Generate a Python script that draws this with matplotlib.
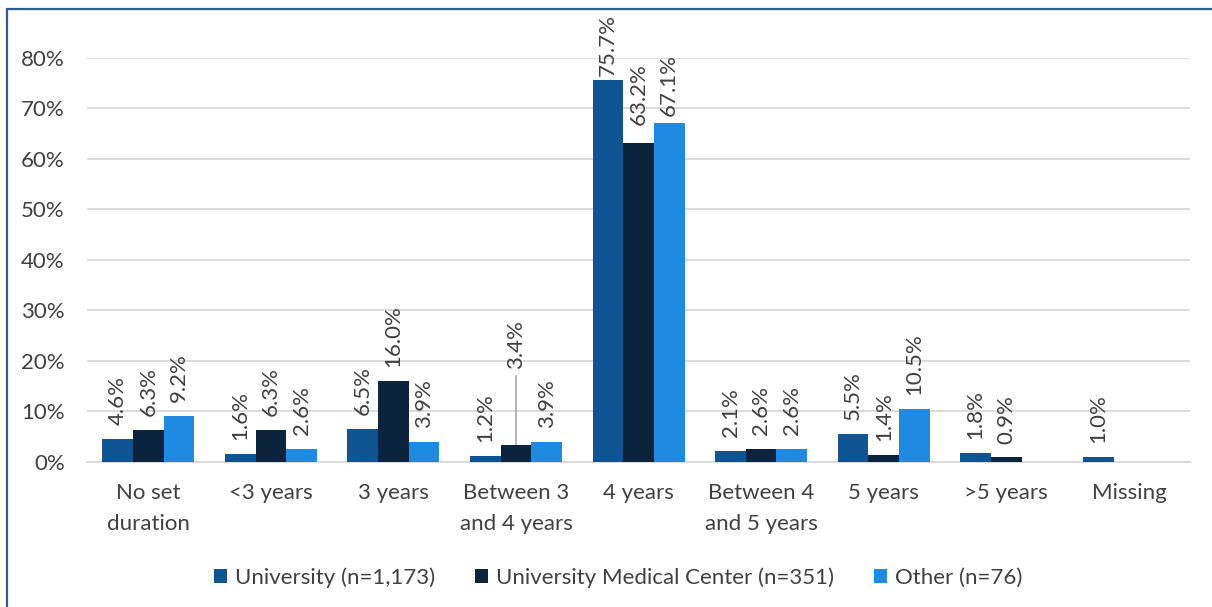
import numpy as np
import matplotlib.pyplot as plt
import matplotlib as mpl
from matplotlib.patches import Rectangle
from matplotlib.ticker import PercentFormatter

categories = ["No set\nduration", "<3 years", "3 years", "Between 3\nand 4 years",
              "4 years", "Between 4\nand 5 years", "5 years", ">5 years", "Missing"]
series_names = ["University (n=1,173)", "University Medical Center (n=351)", "Other (n=76)"]
university = [4.6, 1.6, 6.5, 1.2, 75.7, 2.1, 5.5, 1.8, 1.0]
umc = [6.3, 6.3, 16.0, 3.4, 63.2, 2.6, 1.4, 0.9, np.nan]
other = [9.2, 2.6, 3.9, 3.9, 67.1, 2.6, 10.5, np.nan, np.nan]
colors = ["#105593", "#0B233D", "#1F8AE2"]

mpl.rcParams["font.family"] = ["Lato", "DejaVu Sans"]
text_color = "#404040"
fs = 16

fig = plt.figure(figsize=(12.12, 6.07), dpi=100)
ax = fig.add_axes([0.0718, 0.2389, 0.9102, 0.6656])

x = np.arange(len(categories))
w = 0.25
series = [university, umc, other]
# label gaps (points) above the bar top; Excel nudged the tallest ones
gap_override = {(0, 4): 3, (1, 4): 13, (2, 4): 5}
for i, (vals, name, c) in enumerate(zip(series, series_names, colors)):
    vals = np.array(vals)
    xs = x + (i - 1) * w
    ax.bar(xs, np.nan_to_num(vals), width=w, color=c, label=name, zorder=3)
    for j, (xi, v) in enumerate(zip(xs, vals)):
        if np.isnan(v):
            continue
        if i == 1 and j == 3:
            # label pushed up with a leader line
            ax.plot([xi, xi], [v, 17.0], color="#A6A6A6", lw=1.2, zorder=2, clip_on=False)
            ax.text(xi, 18.5, f"{v:.1f}%", rotation=90, ha="center", va="bottom",
                    fontsize=fs, color=text_color, clip_on=False)
        else:
            ax.annotate(f"{v:.1f}%", (xi, v), xytext=(0, gap_override.get((i, j), 10)),
                        textcoords="offset points", rotation=90, ha="center", va="bottom",
                        fontsize=fs, color=text_color, annotation_clip=False)

ax.set_xlim(-0.5, len(categories) - 0.5)
ax.set_ylim(0, 80)
ax.set_yticks(np.arange(0, 81, 10))
ax.yaxis.set_major_formatter(PercentFormatter(decimals=0))
ax.set_xticks(x)
ax.set_xticklabels(categories, linespacing=1.7)
ax.tick_params(axis="y", length=0, pad=16, labelsize=fs, labelcolor=text_color)
ax.tick_params(axis="x", length=0, pad=15, labelsize=fs, labelcolor=text_color)
ax.grid(axis="y", color="#D9D9D9", lw=1.3, zorder=0)
for s in ["top", "right", "left"]:
    ax.spines[s].set_visible(False)
ax.spines["bottom"].set_color("#D9D9D9")
ax.spines["bottom"].set_linewidth(1.3)

leg = fig.legend(loc="center", bbox_to_anchor=(0.51, 0.049), ncol=3, frameon=False,
                 fontsize=fs, handlelength=0.6, handleheight=0.6, handletextpad=0.35,
                 columnspacing=1.8, labelcolor=text_color)

# outer frame (left and top edges visible)
fig.patches.append(Rectangle((6.5 / 1212, -0.1), 1.2, (607 - 8.5) / 607 + 0.1,
                             transform=fig.transFigure, fill=False,
                             edgecolor="#2A5C9A", lw=1.6))

fig.savefig("out.png", dpi=100)
